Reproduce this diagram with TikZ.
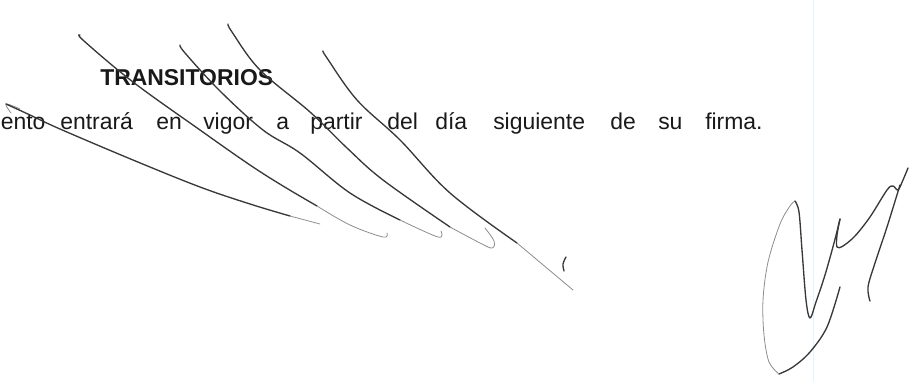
\documentclass[tikz,border=0pt]{standalone}
\usepackage{fontspec}
\setmainfont{Liberation Sans}
\usepackage{tikz}
\usetikzlibrary{arrows.meta}
\usepackage{xcolor}
\newcommand{\bodyfont}{\fontsize{17.2}{20}\selectfont}
\tikzstyle{word} = [anchor=base west, inner sep=0pt, text=black!90, font=\bodyfont]
\tikzstyle{heading} = [word, font=\bodyfont\bfseries]
\tikzstyle{ink} = [draw=black!78, line width=1pt, line cap=round, line join=round]
\tikzstyle{thin ink} = [ink, draw=black!45, line width=0.6pt]

\begin{document}
\begin{tikzpicture}[x=0.75pt, y=-0.75pt]
                \useasboundingbox (0,0) rectangle (914,381);
                % Scan line
                \draw [cyan!12, line width=0.5pt] (813,0) -- (813,381);

                % Create Text
                \node [heading] (title) at (100,86) {TRANSITORIOS};
                \node [word] (w1) at (0.5,130) {ento};
                \node [word] (w2) at (60,130) {entrará};
                \node [word] (w3) at (156,130) {en};
                \node [word] (w4) at (203,130) {vigor};
                \node [word] (w5) at (276,130) {a};
                \node [word] (w6) at (310,130) {partir};
                \node [word] (w7) at (387,130) {del};
                \node [word] (w8) at (435,130) {día};
                \node [word] (w9) at (493,130) {siguiente};
                \node [word] (w10) at (610,130) {de};
                \node [word] (w11) at (658,130) {su};
                \node [word] (w12) at (705,130) {firma.};

                % Add Strokes
                \draw [thin ink] plot [smooth, tension=0.6] coordinates {(11,113) (6,104) (20,109)};
                \draw [ink] plot [smooth, tension=0.6] coordinates {(6,104) (30,115) (60,129) (133,160) (200,187) (250,204) (290,216)};
                \draw [thin ink] plot [smooth, tension=0.6] coordinates {(290,216) (320,224)};

                \draw [ink] plot [smooth, tension=0.6] coordinates {(80,35) (84,41) (133,82) (200,130) (250,165) (283,186) (317,206)};
                \draw [thin ink] plot [smooth, tension=0.6] coordinates {(317,206) (350,225) (383,237) (387,233)};

                \draw [ink] plot [smooth, tension=0.6] coordinates {(180,45) (185,53) (220,91) (263,130) (300,153) (350,193) (400,220)};
                \draw [thin ink] plot [smooth, tension=0.6] coordinates {(400,220) (438,237) (441,231)};

                \draw [ink] plot [smooth, tension=0.6] coordinates {(228,24) (232,32) (260,70) (310,112) (347,148) (383,180) (450,227)};
                \draw [thin ink] plot [smooth, tension=0.6] coordinates {(450,227) (480,243) (492,248) (494,241) (485,228)};

                \draw [ink] plot [smooth, tension=0.6] coordinates {(323,51) (327,58) (357,100) (400,140) (450,193) (517,243)};
                \draw [thin ink] plot [smooth, tension=0.6] coordinates {(517,243) (573,290)};
                \draw [ink] plot [smooth, tension=0.6] coordinates {(566,257) (563,264) (564,271)};

                % Add Signature
                \draw [ink] plot [smooth, tension=0.55] coordinates {(840,287) (827,327) (810,352) (793,367) (779,374)};
                \draw [thin ink] plot [smooth, tension=0.55] coordinates {(779,374) (769,362) (764,335) (763,300) (768,262) (780,224) (790,206) (795,201)};
                \draw [ink] plot [smooth, tension=0.55] coordinates {(795,201) (799,212) (802,250) (806,300) (810,318) (816,302) (825,275) (834,243) (840,219)};
                \draw [ink] plot [smooth, tension=0.55] coordinates {(840,219) (837,235) (837,247) (843,246) (855,236) (870,217) (887,190) (893,186) (898,190) (903,180) (908,168)};
                \draw [ink] plot [smooth, tension=0.55] coordinates {(900,185) (887,227) (875,263) (868,287) (870,301)};
\end{tikzpicture}
\end{document}
